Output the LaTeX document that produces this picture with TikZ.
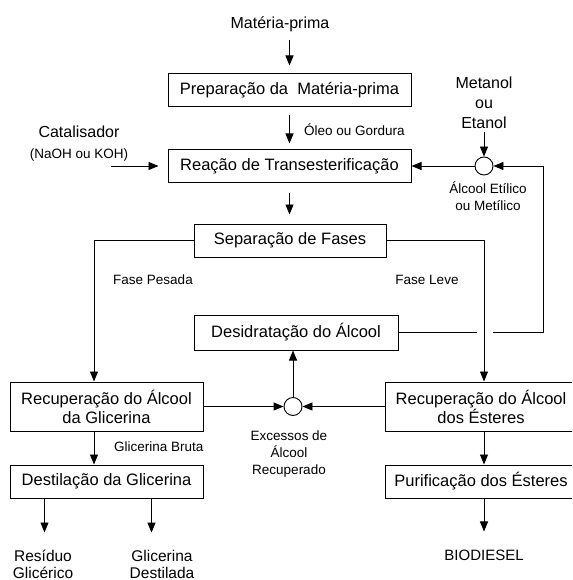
\documentclass[tikz,border=0pt]{standalone}
\usepackage{fontspec}
\setmainfont{Liberation Sans}
\usetikzlibrary{arrows.meta,calc}

\begin{document}
\begin{tikzpicture}[x=1pt, y=-1pt,
	caixa/.style={draw, line width=1pt, inner sep=0pt, align=center, font=\fontsize{16.5}{19}\selectfont},
	rotulo/.style={inner sep=1pt, align=center, font=\fontsize{13.5}{17}\selectfont},
	entrada/.style={inner sep=1pt, align=center, font=\fontsize{16}{20}\selectfont},
	saida/.style={inner sep=1pt, align=center, font=\fontsize{15.5}{17}\selectfont},
	misturador/.style={draw, circle, line width=0.9pt, minimum size=18pt, inner sep=0pt},
	seta/.style={line width=0.9pt, -{Triangle[width=8pt,length=10pt]}},
	linha/.style={line width=0.9pt}]
			%%%%% START %%%%%
			\useasboundingbox (0,0) rectangle (572,580);
			\clip (0,0) rectangle (572,580);
			
			\coordinate (lx) at (94,0);
			\coordinate (rx) at (484,0);
			\coordinate (ret) at (543,0);
			\coordinate (catin) at (111,166);
			
			\node[caixa, minimum width=243pt, minimum height=33pt] (prep) at (289.5,90.5) {Preparação da\ \ Matéria-prima};
			\node[caixa, minimum width=243pt, minimum height=32pt] (reac) at (289.5,166) {Reação de Transesterificação};
			\node[caixa, minimum width=192pt, minimum height=33pt] (sep) at (290,240.5) {Separação de Fases};
			\node[caixa, minimum width=204pt, minimum height=35pt] (desid) at (296,332.5) {Desidratação do Álcool};
			\node[caixa, minimum width=193pt, minimum height=49pt] (recL) at (106.5,406.5) {Recuperação do Álcool\\da Glicerina};
			\node[caixa, minimum width=193pt, minimum height=33pt] (destil) at (106.5,481.5) {Destilação da Glicerina};
			\node[caixa, minimum width=192pt, minimum height=49pt] (recR) at (481,406.5) {Recuperação do Álcool\\dos Ésteres};
			\node[caixa, minimum width=192pt, minimum height=33pt] (purif) at (481,481.5) {Purificação dos Ésteres};
			
			\node[misturador] (mix1) at (484,166) {};
			\node[misturador] (mix2) at (293,406.5) {};
			
			\node[entrada] (mp) at (280,24) {Matéria-prima};
			\node[entrada] (cat) at (79,132) {Catalisador};
			\node[rotulo] (catsub) at (79,155) {(NaOH ou KOH)};
			\node[entrada] (met) at (484,103) {Metanol\\ou\\Etanol};
			\node[rotulo, anchor=west] (oleo) at (303,130) {Óleo ou Gordura};
			\node[rotulo] (alc) at (488,196.5) {Álcool Etílico\\ou Metílico};
			\node[rotulo] (pesada) at (153,280) {Fase Pesada};
			\node[rotulo] (leve) at (427,280) {Fase Leve};
			\node[rotulo, anchor=west] (bruta) at (113,447) {Glicerina Bruta};
			\node[rotulo] (exc) at (289,454.5) {Excessos de\\Álcool\\Recuperado};
			\node[saida] (resid) at (43,564) {Resíduo\\Glicérico};
			\node[saida] (glides) at (162,564) {Glicerina\\Destilada};
			\node[saida, font=\fontsize{15}{17}\selectfont] (bio) at (484,555) {BIODIESEL};
			
			\draw[seta, shorten <=7pt, shorten >=8pt] (mp.south -| prep) -- (prep.north);
			\draw[seta, shorten <=8pt, shorten >=6pt] (prep) -- (reac);
			\draw[seta, shorten <=10pt, shorten >=9pt] (reac.south) -- (reac.south |- sep.north);
			\draw[seta, shorten >=9pt] (catin) -- (reac.west);
			\draw[seta, shorten <=2pt] (met) -- (mix1);
			\draw[seta] (mix1) -- (reac.east);
			
			\draw[seta] (sep.west) -| (lx |- recL.north);
			\draw[seta] (sep.east) -| (rx |- recR.north);
			
			\draw[linha] (desid.east) -- ($(rx |- desid.east)+(-7,0)$);
			\draw[seta] ($(rx |- desid.east)+(9,0)$) -- (ret |- desid.east) |- (mix1.east);
			
			\draw[seta] (mix2) -- (mix2 |- desid.south);
			\draw[seta] (recL.east) -- (mix2.west);
			\draw[seta] (recR.west) -- (mix2.east);
			
			\draw[seta] (lx |- recL.south) -- (lx |- destil.north);
			\draw[seta] (rx |- recR.south) -- (rx |- purif.north);
			
			\draw[seta, shorten >=16pt] ($(destil.south west)+(35,0)$) coordinate (d1) -- (d1 |- resid.north);
			\draw[seta, shorten >=16pt] ($(destil.south west)+(142,0)$) coordinate (d2) -- (d2 |- glides.north);
			\draw[seta, shorten >=17pt] (rx |- purif.south) -- (rx |- bio.north);
			
			%%%%% END %%%%%
\end{tikzpicture}
\end{document}
